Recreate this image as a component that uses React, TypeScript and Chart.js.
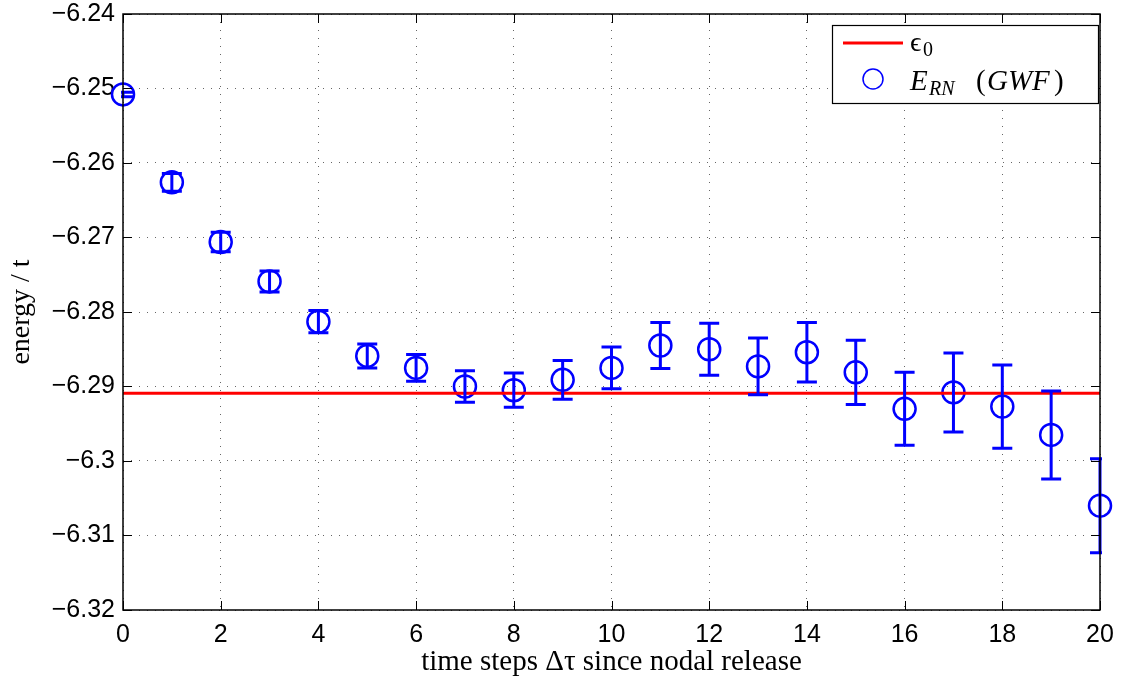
import React, { useEffect, useRef } from "react";
import { Chart, registerables } from "chart.js";

Chart.register(...registerables);

const steps = [0, 1, 2, 3, 4, 5, 6, 7, 8, 9, 10, 11, 12, 13, 14, 15, 16, 17, 18, 19, 20];
const energy = [
  -6.2508, -6.2626, -6.2706, -6.2759, -6.2813, -6.2859, -6.2875, -6.29, -6.2905, -6.2891,
  -6.2875, -6.2845, -6.285, -6.2873, -6.2854, -6.2881, -6.293, -6.2908, -6.2927, -6.2965, -6.306,
];
const errors = [
  0.0003, 0.0012, 0.0013, 0.0014, 0.0015, 0.0016, 0.0018, 0.0021, 0.0023, 0.0026, 0.0028,
  0.0031, 0.0035, 0.0038, 0.004, 0.0043, 0.0049, 0.0053, 0.0056, 0.0059, 0.0063,
];
const epsilon0 = -6.2909;
const xTicks = [0, 2, 4, 6, 8, 10, 12, 14, 16, 18, 20];
const yTicks = [-6.24, -6.25, -6.26, -6.27, -6.28, -6.29, -6.3, -6.31, -6.32];

const BLUE = "#0000ff";
const RED = "#ff0000";
const TICK_FONT = "'Liberation Sans', Arial, sans-serif";
const SERIF = "'Liberation Serif', 'Times New Roman', serif";

const fmtY = (v: number) => {
  let s = Math.abs(v).toFixed(2);
  s = s.replace(/0+$/, "").replace(/\.$/, "");
  return (v < 0 ? "\u2212" : "") + s;
};

const errorBarPlugin = {
  id: "errorBars",
  afterDatasetsDraw(chart: any) {
    const { ctx, chartArea, scales } = chart;
    const xs = scales.x;
    const ys = scales.y;
    ctx.save();
    ctx.beginPath();
    ctx.rect(chartArea.left - 2, chartArea.top, chartArea.right - chartArea.left + 4, chartArea.bottom - chartArea.top);
    ctx.clip();
    ctx.strokeStyle = BLUE;
    ctx.lineWidth = 3;
    ctx.lineCap = "butt";
    const cap = 10;
    steps.forEach((s, i) => {
      const x = xs.getPixelForValue(s);
      const yTop = ys.getPixelForValue(energy[i] + errors[i]);
      const yBot = ys.getPixelForValue(energy[i] - errors[i]);
      ctx.beginPath();
      ctx.moveTo(x, yTop);
      ctx.lineTo(x, yBot);
      ctx.moveTo(x - cap, yTop);
      ctx.lineTo(x + cap, yTop);
      ctx.moveTo(x - cap, yBot);
      ctx.lineTo(x + cap, yBot);
      ctx.stroke();
    });
    ctx.restore();
  },
};

const framePlugin = {
  id: "frame",
  afterDraw(chart: any) {
    const { ctx, chartArea, scales } = chart;
    const { left, right, top, bottom } = chartArea;
    ctx.save();
    ctx.strokeStyle = "#000";
    ctx.lineWidth = 1;
    const tl = 9;
    ctx.beginPath();
    yTicks.forEach((v) => {
      const y = Math.round(scales.y.getPixelForValue(v)) + 0.5;
      ctx.moveTo(left, y);
      ctx.lineTo(left + tl, y);
      ctx.moveTo(right, y);
      ctx.lineTo(right - tl, y);
    });
    xTicks.forEach((v) => {
      const x = Math.round(scales.x.getPixelForValue(v)) + 0.5;
      ctx.moveTo(x, bottom);
      ctx.lineTo(x, bottom - tl);
      ctx.moveTo(x, top);
      ctx.lineTo(x, top + tl);
    });
    ctx.stroke();
    ctx.lineWidth = 1.5;
    ctx.strokeRect(left, top, right - left, bottom - top);

    // legend
    const bx = 832, by = 25, bw = 266, bh = 78;
    ctx.fillStyle = "#fff";
    ctx.fillRect(bx, by, bw, bh);
    ctx.lineWidth = 1.2;
    ctx.strokeStyle = "#000";
    ctx.strokeRect(bx + 0.5, by + 0.5, bw, bh);
    ctx.strokeStyle = RED;
    ctx.lineWidth = 3;
    ctx.beginPath();
    ctx.moveTo(843, 43);
    ctx.lineTo(903, 43);
    ctx.stroke();
    ctx.strokeStyle = BLUE;
    ctx.lineWidth = 1.5;
    ctx.beginPath();
    ctx.arc(873, 79, 10, 0, Math.PI * 2);
    ctx.stroke();

    ctx.fillStyle = "#000";
    ctx.textBaseline = "alphabetic";
    ctx.textAlign = "left";
    // epsilon_0
    ctx.font = `28px ${SERIF}`;
    ctx.fillText("\u03f5", 910, 51);
    ctx.font = `20px ${SERIF}`;
    ctx.fillText("0", 923, 56);
    // E_RN (GWF)
    const y = 90;
    ctx.font = `italic 29px ${SERIF}`;
    ctx.fillText("E", 910, y);
    ctx.font = `italic 20px ${SERIF}`;
    ctx.fillText("RN", 929, y + 5);
    ctx.font = `29px ${SERIF}`;
    ctx.fillText("(", 976, y);
    ctx.font = `italic 29px ${SERIF}`;
    ctx.fillText("GWF", 987, y);
    ctx.font = `29px ${SERIF}`;
    ctx.fillText(")", 1054, y);
    ctx.restore();
  },
};

export default function App() {
  const ref = useRef<HTMLCanvasElement | null>(null);
  useEffect(() => {
    if (!ref.current) return;
    const chart = new Chart(ref.current, {
      type: "scatter",
      data: {
        datasets: [
          {
            type: "line",
            label: "\u03f50",
            data: [
              { x: steps[0], y: epsilon0 },
              { x: steps[steps.length - 1], y: epsilon0 },
            ],
            borderColor: RED,
            borderWidth: 3,
            pointRadius: 0,
            fill: false,
          } as any,
          {
            label: "E_RN (GWF)",
            data: steps.map((s, i) => ({ x: s, y: energy[i] })),
            pointStyle: "circle",
            pointRadius: 11,
            pointBorderWidth: 2.5,
            pointBorderColor: BLUE,
            pointBackgroundColor: "rgba(0,0,0,0)",
            borderColor: BLUE,
            backgroundColor: "rgba(0,0,0,0)",
            showLine: false,
            clip: false,
          } as any,
        ],
      },
      options: {
        responsive: false,
        animation: false,
        events: [],
        layout: { padding: { left: 0, right: 23, top: 14, bottom: 0 } },
        plugins: { legend: { display: false }, tooltip: { enabled: false } },
        scales: {
          x: {
            type: "linear",
            min: 0,
            max: 20,
            afterFit: (s: any) => {
              s.height = 72;
              s.paddingLeft = 0;
              s.paddingRight = 0;
            },
            afterBuildTicks: (s: any) => {
              s.ticks = xTicks.map((v) => ({ value: v }));
            },
            ticks: {
              font: { family: TICK_FONT, size: 25 },
              color: "#000",
              padding: 10,
              maxRotation: 0,
              callback: (v: any) => String(v),
            },
            grid: {
              color: "rgba(0,0,0,0.6)",
              lineWidth: 1,
              drawTicks: false,
            },
            border: { display: false, dash: [1, 7] },
            title: {
              display: true,
              text: "time steps \u0394\u03c4 since nodal release",
              font: { family: SERIF, size: 29 },
              color: "#000",
              padding: { top: 0, bottom: 2 },
            },
          },
          y: {
            type: "linear",
            min: -6.32,
            max: -6.24,
            afterFit: (s: any) => {
              s.width = 123;
              s.paddingTop = 0;
              s.paddingBottom = 0;
            },
            afterBuildTicks: (s: any) => {
              s.ticks = yTicks.map((v) => ({ value: v }));
            },
            ticks: {
              font: { family: TICK_FONT, size: 25 },
              color: "#000",
              padding: 8,
              callback: (v: any) => fmtY(Number(v)),
            },
            grid: {
              color: "rgba(0,0,0,0.6)",
              lineWidth: 1,
              drawTicks: false,
            },
            border: { display: false, dash: [1, 7] },
            title: {
              display: true,
              text: "energy / t",
              font: { family: SERIF, size: 28 },
              color: "#000",
              padding: { top: 5, bottom: 0 },
            },
          },
        },
      } as any,
      plugins: [errorBarPlugin, framePlugin],
    });
    return () => chart.destroy();
  }, []);
  return (
    <div style={{ position: "fixed", left: 0, top: 0, width: 1123, height: 682, background: "#fff" }}>
      <canvas ref={ref} width={1123} height={682} style={{ display: "block" }} />
    </div>
  );
}
